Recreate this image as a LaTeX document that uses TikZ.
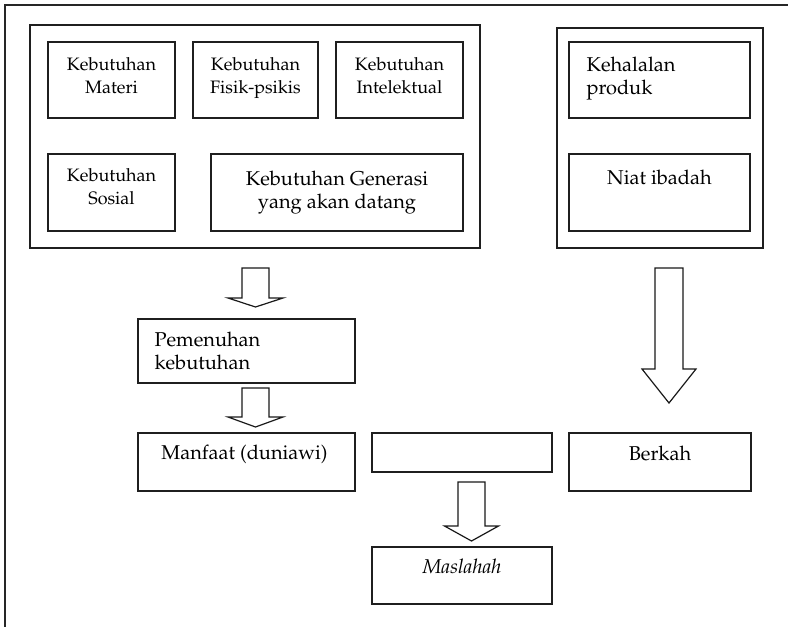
\documentclass[tikz,border=0pt]{standalone}
\usepackage[T1]{fontenc}
\usepackage{mathpazo}
\usetikzlibrary{fit,calc}

% Hollow block arrow: centre x, top y, head base y, tip y, shaft half-width, head half-width
\newcommand\blockarrow[6]{%
  \draw[hollowarrow] (#1-#5,#2) -- (#1+#5,#2) -- (#1+#5,#3) -- (#1+#6,#3)
    -- (#1,#4) -- (#1-#6,#3) -- (#1-#5,#3) -- cycle;}

\begin{document}
\begin{tikzpicture}[x=0.5pt,y=-0.5pt,
  box/.style={draw=black!88, line width=0.9pt, inner sep=0pt},
  hollowarrow/.style={draw=black!90, line width=0.6pt, line join=miter, fill=white},
  smalltxt/.style={inner sep=0pt, align=center, anchor=north,
    font=\fontsize{9}{11.4}\selectfont},
  bigtxt/.style={inner sep=0pt, align=center, anchor=north,
    font=\fontsize{10}{11.2}\selectfont},
  lefttxt/.style={inner sep=0pt, align=left, anchor=north west,
    font=\fontsize{10}{11.2}\selectfont}]
\useasboundingbox (0,0) rectangle (788,627);

% outer frame (only its top and left edges lie on the page)
\draw[line width=1pt, black!85] (5,627) -- (5,5) -- (788,5);

% group of needs
\node[box, fit={(30,25)(480,248)}] (needs) {};
\node[box, fit={(48,42)(175,118)}]  (materi) {};
\node[box, fit={(193,42)(318,118)}] (fisik) {};
\node[box, fit={(336,42)(463,118)}] (intel) {};
\node[box, fit={(48,154)(175,231)}] (sosial) {};
\node[box, fit={(211,154)(463,231)}] (generasi) {};

\node[smalltxt] at ($(materi.north)+(0,16)$) {Kebutuhan\\Materi};
\node[smalltxt] at ($(fisik.north)+(0,16)$) {Kebutuhan\\Fisik-psikis};
\node[smalltxt] at ($(intel.north)+(0,16)$) {Kebutuhan\\Intelektual};
\node[smalltxt] at ($(sosial.north)+(0,15)$) {Kebutuhan\\Sosial};
\node[bigtxt] at ($(generasi.north)+(0,18)$) {Kebutuhan Generasi\\yang akan datang};

% group of spiritual conditions
\node[box, fit={(557,28)(763,248)}] (spirit) {};
\node[box, fit={(569,42)(750,118)}]  (halal) {};
\node[box, fit={(569,154)(750,231)}] (niat) {};
\node[lefttxt] at ($(halal.north west)+(18,16)$) {Kehalalan\\produk};
\node[bigtxt] at ($(niat.north)+(0,17)$) {Niat ibadah};

% flow boxes
\node[box, fit={(138,319)(355,383)}] (pemenuhan) {};
\node[lefttxt] at ($(pemenuhan.north west)+(17,14)$) {Pemenuhan\\kebutuhan};

\node[box, fit={(138,433)(355,491)}] (manfaat) {};
\node[bigtxt] at ($(manfaat.north)+(-2,13)$) {Manfaat (duniawi)};

\node[box, fit={(372,433)(552,472)}] (tengah) {};

\node[box, fit={(569,433)(751,491)}] (berkah) {};
\node[bigtxt] at ($(berkah.north)+(0,14)$) {Berkah};

\node[box, fit={(372,547)(552,604)}] (maslahah) {};
\node[bigtxt] at ($(maslahah.north)+(0,13)$) {\itshape Maslahah};

% hollow arrows between the groups
\blockarrow{255.5}{268}{298}{307}{13.5}{27.5}
\blockarrow{255.5}{388}{417}{427}{13.5}{27.5}
\blockarrow{471.5}{482}{526}{541}{13.5}{27}
\blockarrow{669}{268}{369}{403}{14}{27}
\end{tikzpicture}
\end{document}
